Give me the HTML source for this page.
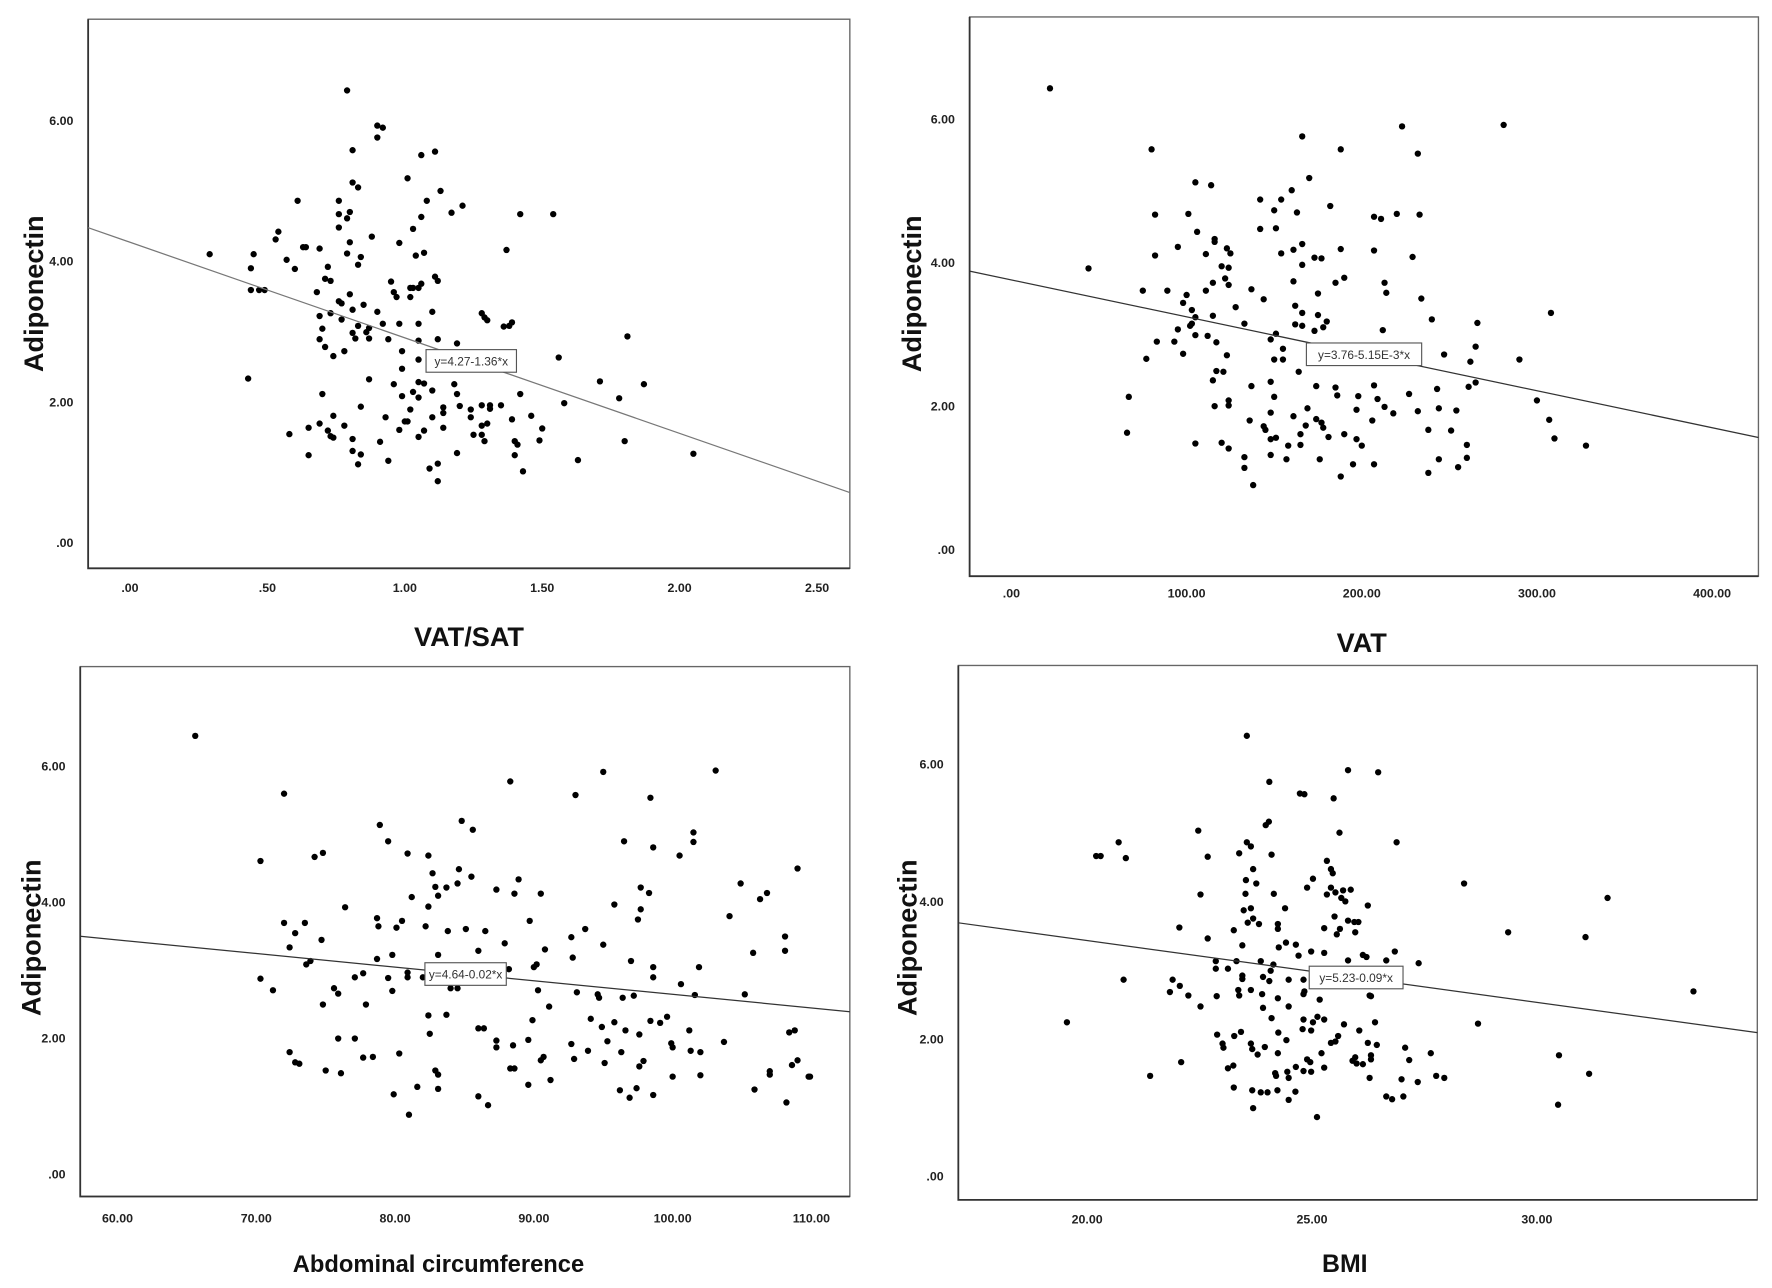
<!DOCTYPE html>
<html><head><meta charset="utf-8"><style>
html,body{margin:0;padding:0;background:#fff;}
svg{display:block;}
text{font-family:"Liberation Sans",sans-serif;}
.tick{font-family:"Liberation Sans Narrow","Liberation Sans",sans-serif;font-size:11px;font-weight:bold;fill:#222;}
.title{font-size:24px;font-weight:bold;fill:#111;}
.eq{font-family:"Liberation Sans Narrow","Liberation Sans",sans-serif;font-size:10.5px;fill:#333;}
</style></head><body>
<svg id="chart" width="1772" height="1288" viewBox="0 0 1568 1140" preserveAspectRatio="none" xmlns="http://www.w3.org/2000/svg"></svg>
<script>
const yTicks = [0, 2, 4, 6];
const yTickLabels = [".00", "2.00", "4.00", "6.00"];

const p1XTicks = [0, 0.5, 1, 1.5, 2, 2.5];
const p1XTickLabels = [".00", ".50", "1.00", "1.50", "2.00", "2.50"];
const p1Fit = [4.27, -1.36];
const p1Points = [[.29,4.10],[.44,3.90],[.45,4.10],[.44,3.59],[.47,3.59],[.49,3.59],[.43,2.33],[.53,4.31],[.54,4.42],[.61,4.86],[.57,4.02],[.60,3.89],[.63,4.20],[.64,4.20],[.69,4.18],[.68,3.56],[.69,3.22],[.70,3.04],[.69,2.89],[.71,2.78],[.70,2.11],[.71,3.75],[.73,3.72],[.72,3.92],[.73,3.26],[.58,1.54],[.65,1.63],[.65,1.24],[.69,1.69],[.72,1.59],[.73,1.51],[.74,1.49],[.74,1.80],[.74,2.65],[.76,4.48],[.76,4.86],[.76,4.67],[.77,3.40],[.76,3.43],[.77,3.17],[.78,2.72],[.78,1.66],[.79,6.43],[.79,4.11],[.79,4.61],[.80,4.70],[.80,4.27],[.80,3.53],[.81,3.31],[.81,5.58],[.81,5.12],[.83,5.05],[.83,3.95],[.84,4.06],[.85,3.38],[.83,3.08],[.81,2.98],[.82,2.90],[.81,1.47],[.81,1.30],[.83,1.11],[.84,1.25],[.84,1.93],[.86,2.99],[.87,2.90],[.87,3.05],[.87,2.32],[.88,4.35],[.90,5.76],[.90,5.93],[.92,5.90],[.90,3.28],[.92,3.11],[.91,1.43],[.94,1.16],[.93,1.78],[.94,2.89],[.95,3.71],[.96,3.56],[.96,2.25],[.97,3.49],[.98,4.26],[.98,3.11],[.99,2.72],[.99,2.47],[.99,2.08],[.98,1.60],[1.00,1.72],[1.01,1.72],[1.01,5.18],[1.02,3.62],[1.02,3.49],[1.03,3.62],[1.05,3.62],[1.03,4.46],[1.04,4.08],[1.02,1.89],[1.03,2.14],[1.05,2.06],[1.05,3.11],[1.05,2.87],[1.05,2.60],[1.05,1.50],[1.05,2.28],[1.06,5.51],[1.06,4.63],[1.07,4.12],[1.06,3.68],[1.08,4.86],[1.07,2.26],[1.07,1.59],[1.09,1.05],[1.10,1.78],[1.10,2.16],[1.10,3.28],[1.11,5.56],[1.11,3.78],[1.12,3.72],[1.12,2.89],[1.12,1.12],[1.12,0.87],[1.13,5.00],[1.14,1.92],[1.14,1.84],[1.14,1.63],[1.17,4.69],[1.18,2.25],[1.19,2.11],[1.19,2.83],[1.21,4.79],[1.20,1.94],[1.19,1.27],[1.24,1.89],[1.24,1.78],[1.25,1.53],[1.28,3.26],[1.29,3.20],[1.30,3.16],[1.28,1.95],[1.28,1.66],[1.30,1.69],[1.29,1.44],[1.28,1.53],[1.31,1.95],[1.31,1.90],[1.35,1.95],[1.36,3.07],[1.38,3.08],[1.39,3.13],[1.37,4.16],[1.42,4.67],[1.42,2.11],[1.39,1.75],[1.40,1.44],[1.41,1.39],[1.40,1.24],[1.43,1.01],[1.46,1.80],[1.50,1.62],[1.49,1.45],[1.54,4.67],[1.56,2.63],[1.58,1.98],[1.63,1.17],[1.71,2.29],[1.78,2.05],[1.81,2.93],[1.80,1.44],[1.87,2.25],[2.05,1.26]];

const p2XTicks = [0, 100, 200, 300, 400];
const p2XTickLabels = [".00", "100.00", "200.00", "300.00", "400.00"];
const p2Fit = [3.76, -0.00515];
const p2Points = [[22,6.43],[44,3.92],[66,1.63],[67,2.13],[75,3.61],[77,2.66],[80,5.58],[82,4.10],[82,4.67],[83,2.90],[89,3.61],[93,2.90],[95,4.22],[95,3.07],[98,3.44],[98,2.73],[100,3.55],[101,4.68],[102,3.12],[103,3.34],[103,3.15],[105,5.12],[106,4.43],[105,2.99],[105,1.48],[105,3.24],[111,3.61],[111,4.12],[112,2.98],[114,5.08],[115,3.72],[115,3.26],[116,4.29],[116,4.33],[115,2.36],[117,2.89],[117,2.49],[116,2.00],[120,3.95],[121,2.48],[120,1.49],[122,3.78],[123,4.20],[123,2.71],[124,3.93],[124,3.69],[124,2.08],[124,2.01],[124,1.41],[125,4.13],[128,3.38],[133,3.15],[133,1.29],[133,1.14],[137,3.63],[137,2.28],[136,1.80],[138,0.90],[142,4.47],[142,4.88],[144,3.49],[144,1.72],[145,1.67],[148,2.93],[148,2.34],[148,1.91],[148,1.32],[148,1.54],[150,4.73],[151,4.48],[150,2.65],[150,2.13],[151,3.01],[151,1.56],[154,4.88],[154,4.13],[155,2.65],[155,2.80],[157,1.26],[158,1.45],[160,5.01],[161,3.74],[161,4.18],[161,1.86],[162,3.14],[162,3.40],[163,4.70],[164,2.48],[165,1.46],[165,1.61],[166,4.26],[166,3.97],[166,3.30],[166,3.12],[169,1.97],[168,1.73],[170,5.18],[173,4.07],[173,3.05],[174,2.28],[175,3.57],[175,3.27],[174,1.82],[176,1.26],[177,4.06],[178,3.10],[177,1.77],[178,1.70],[180,3.18],[182,4.79],[181,1.57],[166,5.76],[188,5.58],[185,3.72],[185,2.26],[186,2.15],[188,4.19],[190,3.79],[188,1.02],[190,1.61],[195,1.19],[197,1.54],[198,2.14],[197,1.95],[200,1.45],[207,1.19],[206,1.80],[207,4.64],[207,4.17],[207,2.29],[209,2.10],[211,4.61],[212,3.06],[213,1.99],[213,3.72],[214,3.58],[218,1.90],[220,4.68],[223,5.90],[227,2.17],[229,4.08],[229,2.61],[232,5.52],[233,4.67],[234,3.50],[232,1.93],[238,1.67],[238,1.07],[240,3.21],[243,2.24],[244,1.97],[244,1.26],[247,2.72],[251,1.66],[254,1.94],[255,1.15],[260,1.46],[260,1.28],[261,2.27],[262,2.62],[265,2.33],[265,2.83],[266,3.16],[281,5.92],[290,2.65],[300,2.08],[307,1.81],[308,3.30],[310,1.55],[328,1.45]];

const p3XTicks = [60, 70, 80, 90, 100, 110];
const p3XTickLabels = ["60.00", "70.00", "80.00", "90.00", "100.00", "110.00"];
const p3Fit = [4.64, -0.02];
const p3Points = [[65.6,6.44],[70.3,4.60],[70.3,2.87],[71.2,2.70],[72.0,5.59],[72.0,3.69],[72.4,3.33],[72.4,1.79],[72.8,3.54],[72.8,1.64],[73.1,1.62],[73.5,3.69],[73.6,3.08],[73.9,3.13],[74.2,4.66],[74.8,4.72],[74.7,3.44],[74.8,2.49],[75.0,1.52],[75.6,2.73],[75.9,2.65],[75.9,1.99],[76.1,1.48],[76.4,3.92],[77.1,2.89],[77.1,1.99],[77.7,2.95],[77.7,1.71],[77.9,2.49],[78.4,1.72],[78.7,3.76],[78.8,3.64],[78.7,3.16],[78.9,5.13],[79.5,2.88],[79.5,4.89],[79.8,3.22],[79.8,2.69],[79.9,1.17],[80.1,3.62],[80.3,1.77],[80.5,3.72],[80.9,4.71],[80.9,2.96],[80.9,2.89],[81.2,4.07],[81.0,0.87],[81.6,1.28],[82.0,2.89],[82.2,3.64],[82.4,4.68],[82.4,3.93],[82.4,2.33],[82.5,2.06],[82.7,4.42],[82.9,4.22],[83.1,4.09],[83.1,3.22],[82.9,1.52],[83.1,1.46],[83.1,1.25],[83.7,4.21],[83.8,3.57],[83.7,2.34],[84.0,2.73],[84.5,2.73],[84.5,4.27],[84.6,4.48],[84.8,5.19],[85.1,3.60],[85.5,4.37],[85.6,5.06],[86.0,1.14],[86.0,3.28],[86.0,2.14],[86.4,2.14],[86.5,3.57],[86.7,1.01],[87.3,4.18],[87.3,1.96],[87.3,1.86],[87.9,3.39],[88.2,3.01],[88.3,5.77],[88.3,1.55],[88.5,1.89],[88.6,4.12],[88.6,1.55],[88.9,4.33],[89.6,1.97],[89.6,1.31],[89.7,3.72],[89.9,2.26],[90.0,3.04],[90.2,3.08],[90.3,2.70],[90.5,4.12],[90.5,1.67],[90.7,1.72],[90.8,3.30],[91.1,2.46],[91.2,1.38],[92.7,3.48],[92.7,1.91],[92.8,3.18],[92.9,1.69],[93.0,5.57],[93.1,2.67],[93.7,3.60],[93.9,1.81],[94.1,2.28],[94.6,2.64],[94.7,2.59],[94.9,2.16],[95.0,5.91],[95.0,3.37],[95.1,1.63],[95.3,1.95],[95.8,3.96],[95.8,2.23],[96.2,1.23],[96.3,1.79],[96.4,2.59],[96.5,4.89],[96.6,2.11],[96.9,1.12],[97.0,3.13],[97.2,2.62],[97.4,1.26],[97.5,3.74],[97.6,2.05],[97.6,1.58],[97.7,4.21],[97.7,3.89],[97.9,1.66],[98.3,4.13],[98.4,5.53],[98.4,2.25],[98.6,1.16],[98.6,4.80],[98.6,3.04],[98.6,2.89],[99.1,2.22],[99.6,2.31],[99.9,1.92],[100.0,1.86],[100.0,1.43],[100.5,4.68],[100.6,2.79],[101.2,2.11],[101.3,1.81],[101.5,5.02],[101.5,4.88],[101.6,2.63],[101.9,3.04],[102.0,1.79],[102.0,1.45],[103.1,5.93],[103.7,1.94],[104.1,3.79],[104.9,4.27],[105.2,2.64],[105.8,3.25],[105.9,1.24],[106.3,4.04],[106.8,4.13],[107.0,1.51],[107.0,1.46],[108.1,3.49],[108.1,3.28],[108.2,1.05],[108.4,2.08],[108.6,1.60],[108.8,2.11],[109.0,1.67],[109.0,4.49],[109.8,1.43],[109.9,1.43]];

const p4XTicks = [20, 25, 30];
const p4XTickLabels = ["20.00", "25.00", "30.00"];
const p4Fit = [5.23, -0.09];
const p4Points = [[19.55,2.24],[20.20,4.66],[20.30,4.66],[20.70,4.86],[20.86,4.63],[20.81,2.86],[21.40,1.46],[21.84,2.68],[21.90,2.86],[22.05,3.62],[22.06,2.77],[22.09,1.66],[22.25,2.63],[22.47,5.03],[22.52,4.10],[22.52,2.47],[22.68,4.65],[22.68,3.46],[22.86,3.13],[22.86,3.02],[22.88,2.62],[22.89,2.06],[23.01,1.93],[23.03,1.87],[23.13,3.02],[23.13,1.57],[23.25,1.61],[23.26,3.58],[23.26,1.29],[23.27,2.04],[23.32,3.13],[23.36,2.71],[23.38,2.63],[23.38,4.70],[23.45,3.36],[23.45,2.92],[23.45,2.87],[23.42,2.10],[23.48,3.87],[23.53,4.31],[23.52,4.11],[23.55,6.41],[23.55,4.86],[23.57,3.69],[23.64,4.80],[23.64,3.90],[23.64,1.93],[23.64,2.71],[23.67,1.25],[23.67,1.85],[23.69,3.75],[23.69,4.47],[23.69,0.99],[23.76,4.26],[23.79,1.77],[23.82,3.67],[23.86,3.13],[23.86,1.22],[23.89,2.65],[23.91,2.45],[23.91,2.90],[23.95,1.88],[23.97,5.11],[24.01,1.22],[24.04,5.16],[24.05,5.74],[24.05,2.84],[24.08,2.99],[24.10,4.68],[24.10,2.30],[24.14,3.08],[24.15,4.11],[24.23,1.25],[24.24,2.59],[24.24,3.67],[24.24,3.60],[24.24,1.79],[24.25,2.09],[24.26,3.33],[24.18,1.50],[24.20,1.46],[24.40,3.90],[24.43,1.98],[24.42,3.40],[24.48,2.86],[24.48,2.47],[24.48,1.43],[24.48,1.11],[24.45,1.52],[24.63,1.23],[24.64,1.59],[24.64,3.37],[24.70,3.21],[24.73,5.57],[24.83,5.56],[24.81,2.86],[24.81,2.65],[24.83,2.69],[24.81,2.28],[24.79,2.14],[24.81,1.53],[24.89,4.20],[24.89,1.70],[24.98,1.52],[24.96,1.66],[24.98,3.27],[24.98,2.12],[25.02,4.33],[25.02,2.24],[25.11,0.86],[25.12,2.32],[25.17,2.57],[25.21,1.79],[25.27,3.61],[25.27,3.25],[25.27,2.28],[25.27,1.58],[25.33,4.59],[25.33,4.10],[25.42,4.47],[25.46,4.41],[25.42,4.20],[25.42,1.94],[25.48,5.50],[25.50,3.78],[25.52,4.13],[25.52,1.96],[25.55,3.52],[25.58,2.04],[25.61,5.00],[25.65,4.05],[25.62,3.60],[25.69,4.16],[25.74,4.00],[25.71,2.21],[25.80,5.91],[25.80,3.72],[25.80,3.14],[25.86,4.17],[25.90,1.68],[25.94,3.70],[25.96,1.73],[25.96,3.55],[25.99,1.64],[26.03,3.70],[26.05,2.12],[26.13,3.22],[26.13,1.63],[26.21,3.19],[26.24,3.94],[26.24,1.94],[26.28,1.43],[26.28,2.63],[26.31,2.62],[26.31,1.76],[26.31,1.70],[26.40,2.24],[26.44,1.91],[26.47,5.88],[26.65,1.16],[26.65,3.14],[26.78,1.12],[26.84,3.27],[26.88,4.86],[26.99,1.41],[27.03,1.16],[27.07,1.87],[27.16,1.69],[27.35,1.37],[27.37,3.10],[27.64,1.79],[27.76,1.46],[27.94,1.43],[28.38,4.26],[28.69,2.22],[29.36,3.55],[30.49,1.76],[30.47,1.04],[31.08,3.48],[31.16,1.49],[31.57,4.05],[33.48,2.69]];

const NS = "http://www.w3.org/2000/svg";
const svg = document.getElementById("chart");
function mk(tag, attrs, parent) {
  const e = document.createElementNS(NS, tag);
  for (const k in attrs) e.setAttribute(k, attrs[k]);
  (parent || svg).appendChild(e);
  return e;
}

const panels = [
  {key:"vat-sat", pts:p1Points, fit:p1Fit, xt:p1XTicks, xl:p1XTickLabels, title:"VAT/SAT",
   frame:[78,17,752,503], xA:[0,115,243.2], yA:[480,62.2], tickY:524, titleX:415, titleY:572, ylabX:30, ylabY:260,
   eqX:417, eqText:"y=4.27-1.36*x", eqW:80, titleSize:24, lineCol:"#777"},
  {key:"vat", pts:p2Points, fit:p2Fit, xt:p2XTicks, xl:p2XTickLabels, title:"VAT",
   frame:[858,15,1556,510], xA:[0,895,1.55], yA:[486.5,63.5], tickY:529, titleX:1205, titleY:577, ylabX:807, ylabY:260,
   eqX:1207, eqText:"y=3.76-5.15E-3*x", eqW:102, titleSize:24, lineCol:"#333"},
  {key:"abdominal", pts:p3Points, fit:p3Fit, xt:p3XTicks, xl:p3XTickLabels, title:"Abdominal circumference",
   frame:[71,590,752,1059], xA:[60,104,12.28], yA:[1039,60.2], tickY:1082, titleX:388, titleY:1126, ylabX:28, ylabY:830,
   eqX:412, eqText:"y=4.64-0.02*x", eqW:72, titleSize:21, lineCol:"#333"},
  {key:"bmi", pts:p4Points, fit:p4Fit, xt:p4XTicks, xl:p4XTickLabels, title:"BMI",
   frame:[848,589,1555,1062], xA:[20,962,39.8], yA:[1041,60.8], tickY:1083, titleX:1190, titleY:1126, ylabX:803, ylabY:830,
   eqX:1200, eqText:"y=5.23-0.09*x", eqW:83, titleSize:22, lineCol:"#333"}
];

panels.forEach(function(p) {
  const sx = function(v){ return p.xA[1] + (v - p.xA[0]) * p.xA[2]; };
  const sy = function(v){ return p.yA[0] - v * p.yA[1]; };
  const invx = function(px){ return p.xA[0] + (px - p.xA[1]) / p.xA[2]; };
  const g = mk("g", {});
  
  
  const [L,T,R,B] = p.frame;
  const fr = mk("rect", {x:L, y:T, width:R-L, height:B-T, fill:"none", stroke:"#666", "stroke-width":1.2}, g);
  
  
  const ax = mk("path", {d:"M"+L+" "+T+" V"+B+" H"+R, fill:"none", stroke:"#333", "stroke-width":1.6}, g);
  
  
  yTicks.forEach(function(v, i) {
    const t = mk("text", {x:L-13, y:sy(v)+4, "text-anchor":"end", class:"tick"}, g);
    t.textContent = yTickLabels[i];
    
    
  });
  p.xt.forEach(function(v, i) {
    const t = mk("text", {x:sx(v), y:p.tickY, "text-anchor":"middle", class:"tick"}, g);
    t.textContent = p.xl[i];
    
    
  });
  const xt = mk("text", {x:p.titleX, y:p.titleY, "text-anchor":"middle", class:"title", style:"font-size:"+p.titleSize+"px"}, g);
  xt.textContent = p.title;
  
  
  const yt = mk("text", {x:p.ylabX, y:p.ylabY, "text-anchor":"middle", class:"title", transform:"rotate(-90 "+p.ylabX+" "+p.ylabY+")", dy:"8"}, g);
  yt.textContent = "Adiponectin";
  
  
  p.pts.forEach(function(d) {
    const c = mk("circle", {cx:sx(d[0]), cy:sy(d[1]), r:2.8, fill:"#000"}, g);
    
    
  });
  const x0 = invx(L), x1 = invx(R);
  const ln = mk("line", {x1:L, y1:sy(p.fit[0]+p.fit[1]*x0), x2:R, y2:sy(p.fit[0]+p.fit[1]*x1), stroke:p.lineCol, "stroke-width":1.1}, g);
  
  
  const eqY = sy(p.fit[0]+p.fit[1]*invx(p.eqX));
  const bx = mk("rect", {x:p.eqX - p.eqW/2, y:eqY-10, width:p.eqW, height:20, fill:"#fff", stroke:"#555", "stroke-width":1}, g);
  
  
  const et = mk("text", {x:p.eqX, y:eqY+4, "text-anchor":"middle", class:"eq"}, g);
  et.textContent = p.eqText;
  
  
});
</script>
</body></html>
